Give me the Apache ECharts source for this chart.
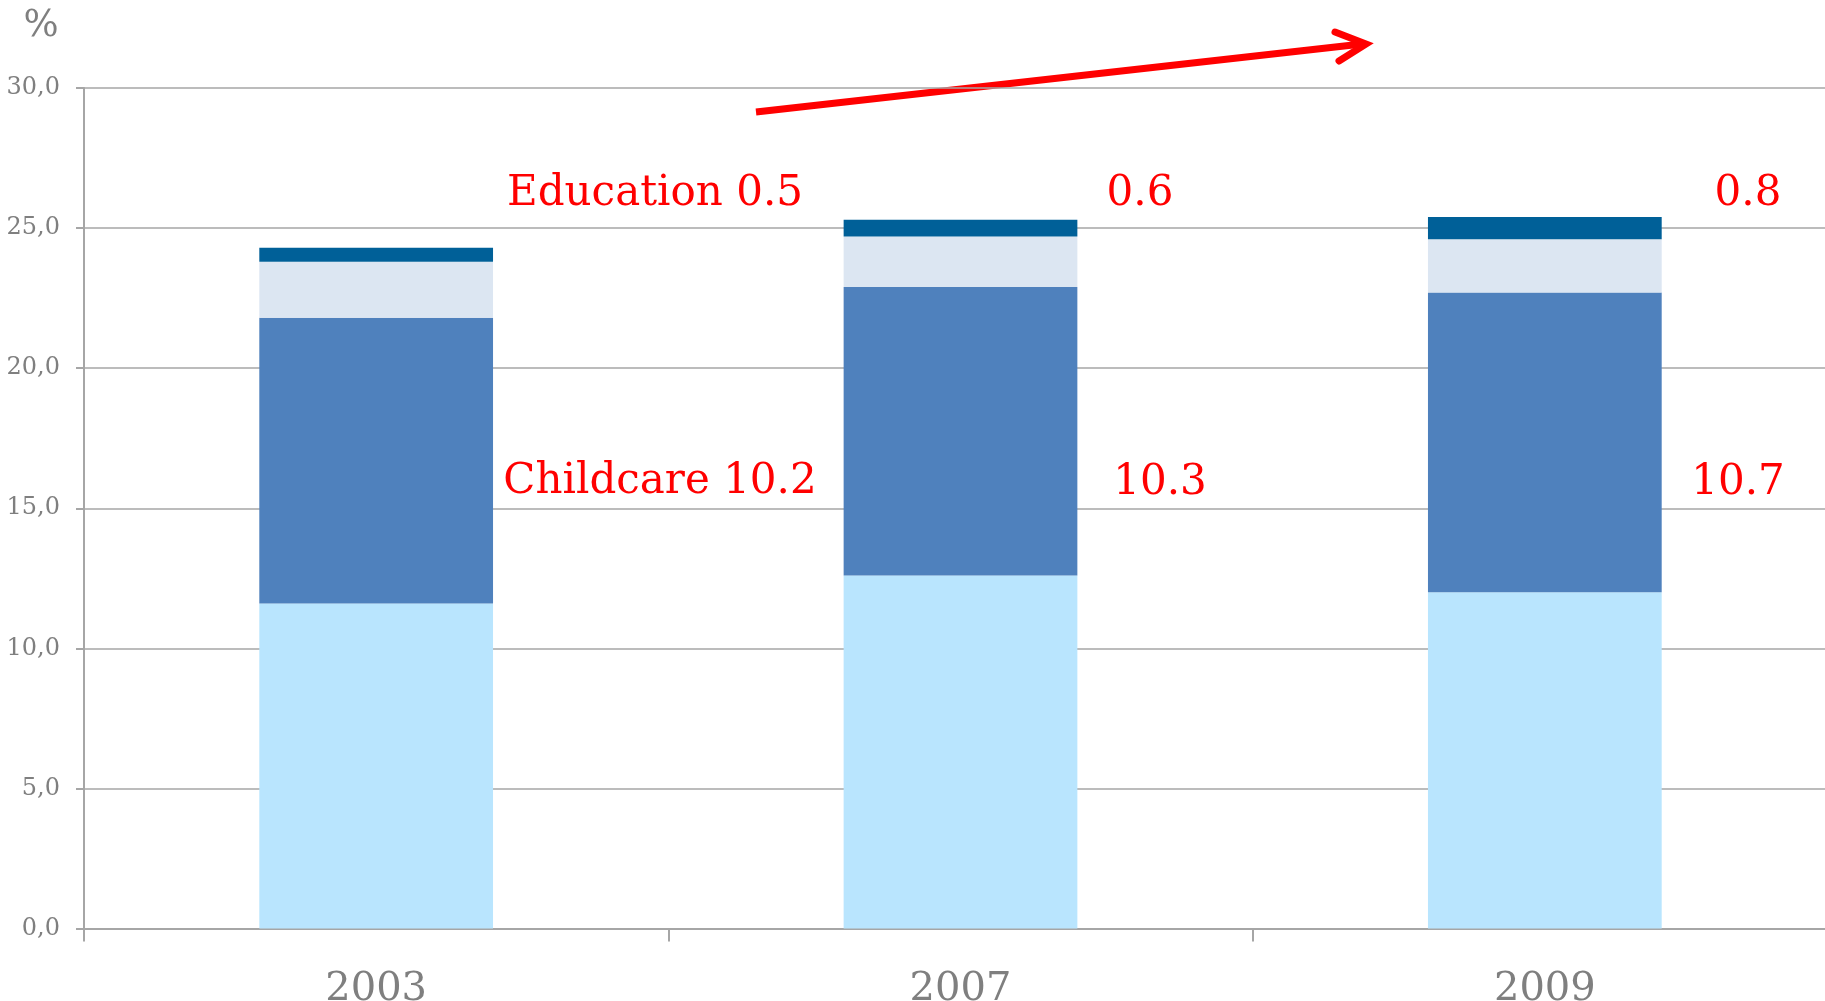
<!DOCTYPE html>
<html>
<head>
<meta charset="utf-8">
<script src="https://cdn.jsdelivr.net/npm/echarts@6/dist/echarts.min.js"></script>
<style>
html,body{margin:0;padding:0;background:#fff;}
#wrap{width:1825px;height:1001px;overflow:hidden;position:relative;}
#chart{width:1837px;height:1001px;position:absolute;left:0;top:0;}
</style>
</head>
<body>
<div id="wrap"><div id="chart"></div></div>
<script>
// ---- data ----
var categories = ['2003', '2007', '2009'];
var baseValues = [11.6, 12.6, 12.0];        // light blue (bottom)
var childcareValues = [10.2, 10.3, 10.7];   // mid blue
var otherValues = [2.0, 1.8, 1.9];          // very light grey-blue
var educationValues = [0.5, 0.6, 0.8];      // dark blue (top)
var yTicks = [0, 5, 10, 15, 20, 25, 30];
var educationLabels = ['Education 0.5', '0.6', '0.8'];
var childcareLabels = ['Childcare 10.2', '10.3', '10.7'];
var unitLabel = '%';

// ---- styling ----
var FONT = 'DejaVu Serif';
var GRAY = '#7f7f7f';
var LINE = '#a6a6a6';
var RED = '#ff0000';

var chart = echarts.init(document.getElementById('chart'), null, {renderer: 'canvas'});

function barSeries(name, data, color) {
  return {
    name: name, type: 'bar', stack: 'total', data: data,
    barWidth: '40%',
    itemStyle: {color: color},
    emphasis: {disabled: true}
  };
}

var eduPos = [[655, 194], [1140, 194], [1748, 194]];
var childPos = [[660, 482], [1160, 483], [1738, 483]];
var graphics = [];
educationLabels.forEach(function (t, i) {
  graphics.push({type: 'text', x: eduPos[i][0], y: eduPos[i][1],
    style: {text: t, fill: RED, font: '42px "' + FONT + '"', align: 'center', verticalAlign: 'middle'}});
});
childcareLabels.forEach(function (t, i) {
  graphics.push({type: 'text', x: childPos[i][0], y: childPos[i][1],
    style: {text: t, fill: RED, font: '42px "' + FONT + '"', align: 'center', verticalAlign: 'middle'}});
});
graphics.push({type: 'text', x: 41, y: 26,
  style: {text: unitLabel, fill: GRAY, font: '37px "' + FONT + '"', align: 'center', verticalAlign: 'middle'}});
// trend arrow
graphics.push({type: 'polyline', shape: {points: [[756, 112], [1362, 44]]},
  style: {stroke: RED, lineWidth: 7, lineCap: 'butt', fill: null}});
graphics.push({type: 'polyline', shape: {points: [[1335, 32], [1366, 44], [1339, 61]]},
  style: {stroke: RED, lineWidth: 7, lineCap: 'round', lineJoin: 'miter', fill: null}});

var option = {
  backgroundColor: '#ffffff',
  animation: false,
  grid: {left: 84, right: 0, top: 88, bottom: 72.5, containLabel: false, outerBoundsMode: 'none'},
  xAxis: {
    type: 'category', data: categories, boundaryGap: true,
    axisLine: {show: true, lineStyle: {color: LINE, width: 2}},
    axisTick: {show: true, alignWithLabel: false, length: 13, lineStyle: {color: LINE, width: 2}},
    axisLabel: {color: GRAY, fontFamily: FONT, fontSize: 40, margin: 41}
  },
  yAxis: {
    type: 'value', min: yTicks[0], max: yTicks[yTicks.length - 1], interval: yTicks[1] - yTicks[0],
    axisLine: {show: true, lineStyle: {color: LINE, width: 2}},
    axisTick: {show: true, inside: false, length: 8, lineStyle: {color: LINE, width: 2}},
    splitLine: {show: true, lineStyle: {color: LINE, width: 1.5}},
    axisLabel: {color: GRAY, fontFamily: FONT, fontSize: 24, margin: 24, padding: [12, 0, 0, 0],
      formatter: function (v) { return v.toFixed(1).replace('.', ','); }}
  },
  series: [
    barSeries('Other', baseValues, '#b9e5fe'),
    barSeries('Childcare', childcareValues, '#4f81bd'),
    barSeries('Other services', otherValues, '#dce6f2'),
    barSeries('Education', educationValues, '#006098')
  ],
  graphic: graphics
};
chart.setOption(option);
</script>
</body>
</html>
